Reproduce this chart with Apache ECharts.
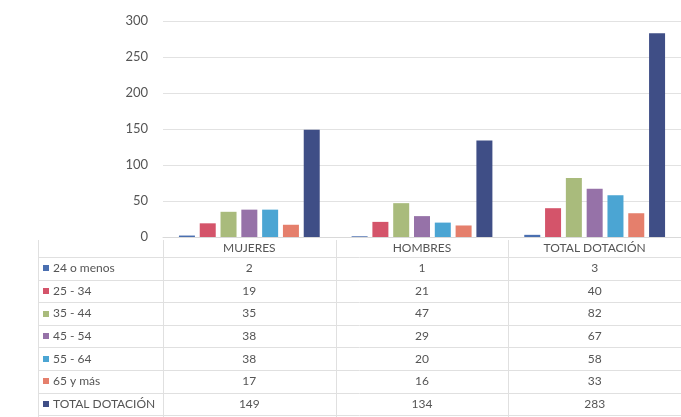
<!DOCTYPE html>
<html>
<head>
<meta charset="utf-8">
<script src="https://cdn.jsdelivr.net/npm/echarts@6/dist/echarts.min.js"></script>
<style>
  html, body { margin: 0; padding: 0; background: #fff; }
  #chart { width: 681px; height: 417px; }
</style>
</head>
<body>
<div id="chart"></div>
<script>
// Staff headcount by age bracket
const categories = ['MUJERES', 'HOMBRES', 'TOTAL DOTACIÓN'];
const seriesNames = ['24 o menos', '25 - 34', '35 - 44', '45 - 54', '55 - 64', '65 y más', 'TOTAL DOTACIÓN'];
const v24oMenos = [2, 1, 3];
const v25a34 = [19, 21, 40];
const v35a44 = [35, 47, 82];
const v45a54 = [38, 29, 67];
const v55a64 = [38, 20, 58];
const v65yMas = [17, 16, 33];
const vTotal = [149, 134, 283];
const yTicks = [0, 50, 100, 150, 200, 250, 300];

const seriesValues = [v24oMenos, v25a34, v35a44, v45a54, v55a64, v65yMas, vTotal];
const colors = ['#4a6fb0', '#d4546a', '#a9bb7c', '#9672a8', '#4ba5d3', '#e57f6c', '#3f4e86'];
const FONT = 'Lato, "Open Sans", sans-serif';

const chart = echarts.init(document.getElementById('chart'), null, { renderer: 'canvas' });

const option = {
  backgroundColor: '#ffffff',
  animation: false,
  grid: { left: 163, top: 21, width: 534, bottom: 180, containLabel: false },
  xAxis: {
    type: 'category',
    data: categories,
    axisTick: { show: false },
    axisLine: { show: true, lineStyle: { color: '#d9d9d9' } },
    axisLabel: { color: '#555', fontSize: 12, fontFamily: FONT, margin: 5 }
  },
  yAxis: {
    type: 'value',
    min: yTicks[0],
    max: yTicks[yTicks.length - 1],
    interval: yTicks[1] - yTicks[0],
    axisLine: { show: false },
    axisTick: { show: false },
    splitLine: { lineStyle: { color: '#e2e2e2', width: 1 } },
    axisLabel: { color: '#555', fontSize: 13, fontFamily: FONT, margin: 15 }
  },
  series: seriesNames.map((name, i) => ({
    name: name,
    type: 'bar',
    data: seriesValues[i],
    barWidth: 16,
    barGap: '30%',
    itemStyle: { color: colors[i] }
  }))
};
chart.setOption(option);

// Data table under the plot, laid out on the category axis
function buildTable() {
  const centers = categories.map(c => chart.convertToPixel({ xAxisIndex: 0 }, c));
  const band = centers.length > 1 ? centers[1] - centers[0] : 178;
  const tableLeft = 38;
  const firstCol = centers[0] - band / 2;
  const rowTop = 257;
  const rowH = 22.6;
  const elements = [];
  const lineStyle = { stroke: '#e0e0e0', lineWidth: 1 };

  // horizontal rules
  for (let r = 0; r <= seriesNames.length; r++) {
    const y = Math.round(rowTop + r * rowH) + 0.5;
    elements.push({ type: 'line', shape: { x1: tableLeft, y1: y, x2: 681, y2: y }, style: lineStyle, silent: true });
  }
  // vertical rules
  const vx = [tableLeft, firstCol];
  for (let c = 1; c < centers.length; c++) vx.push(centers[c] - band / 2);
  vx.forEach(x => {
    const xx = Math.round(x) + 0.5;
    elements.push({ type: 'line', shape: { x1: xx, y1: 240, x2: xx, y2: 417 }, style: lineStyle, silent: true });
  });

  seriesNames.forEach((name, r) => {
    const cy = rowTop + r * rowH + rowH / 2;
    elements.push({ type: 'rect', shape: { x: 43, y: Math.round(cy) - 3, width: 6, height: 6 }, style: { fill: colors[r] }, silent: true });
    elements.push({
      type: 'text', x: 53, y: cy,
      style: { text: name, fill: '#555', font: '12px ' + FONT, textVerticalAlign: 'middle', textAlign: 'left' },
      silent: true
    });
    seriesValues[r].forEach((val, c) => {
      elements.push({
        type: 'text', x: centers[c], y: cy,
        style: { text: String(val), fill: '#555', font: '12px ' + FONT, textVerticalAlign: 'middle', textAlign: 'center' },
        silent: true
      });
    });
  });
  chart.setOption({ graphic: { elements: elements } });
}
buildTable();
</script>
</body>
</html>
